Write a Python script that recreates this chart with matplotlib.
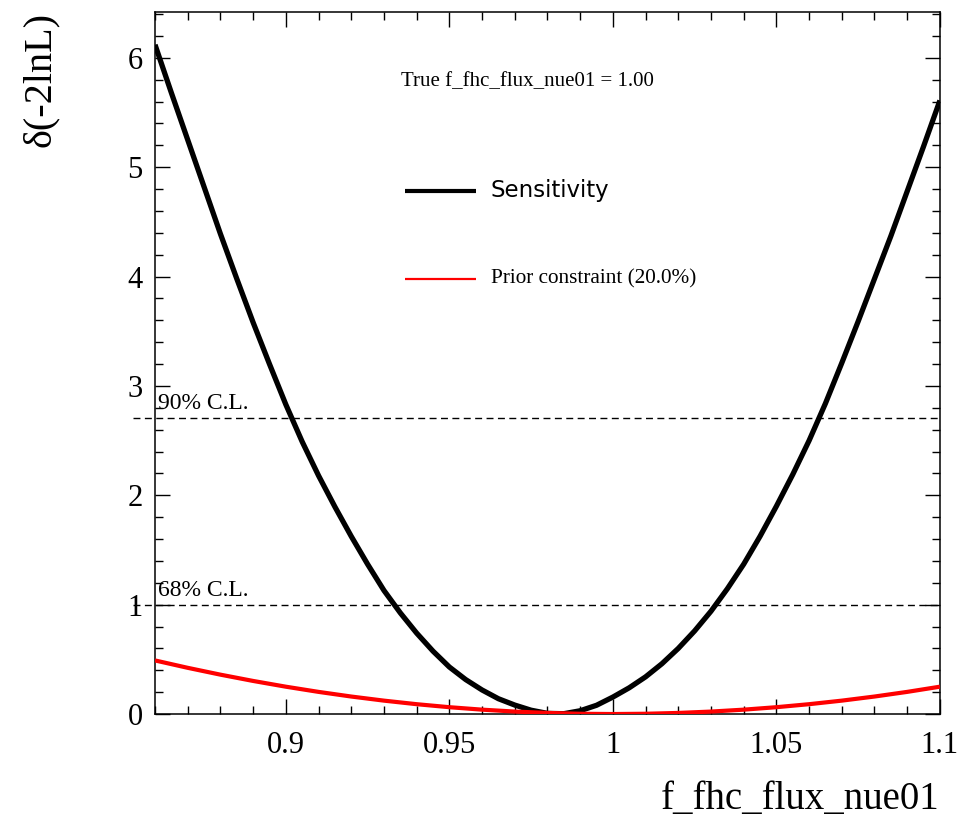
"""
Profile likelihood scan for f_fhc_flux_nue01.

Draws the delta(-2lnL) sensitivity curve next to the 20% Gaussian prior
constraint, with the 68% and 90% C.L. reference levels, in ROOT-like style.

Output:
    out.png
"""

import matplotlib
matplotlib.use("Agg")
import matplotlib.pyplot as plt
import matplotlib.transforms as mtransforms
from matplotlib.ticker import FormatStrFormatter, MultipleLocator

PARAM_NAME = "f_fhc_flux_nue01"
TRUE_VALUE = 1.00
PRIOR_WIDTH = 0.20

# Scan points (parameter value) and delta(-2lnL) for the sensitivity curve
scan_x = [0.860, 0.865, 0.870, 0.875, 0.880, 0.885, 0.890, 0.895, 0.900, 0.905,
          0.910, 0.915, 0.920, 0.925, 0.930, 0.935, 0.940, 0.945, 0.950, 0.955,
          0.960, 0.965, 0.970, 0.975, 0.980, 0.985, 0.990, 0.995, 1.000, 1.005,
          1.010, 1.015, 1.020, 1.025, 1.030, 1.035, 1.040, 1.045, 1.050, 1.055,
          1.060, 1.065, 1.070, 1.075, 1.080, 1.085, 1.090, 1.095, 1.100]
sensitivity = [6.12, 5.68, 5.25, 4.82, 4.39, 3.98, 3.58, 3.20, 2.83, 2.49,
               2.18, 1.895, 1.625, 1.37, 1.13, 0.925, 0.74, 0.575, 0.43, 0.315,
               0.22, 0.14, 0.082, 0.035, 0.006, 0.003, 0.03, 0.08, 0.155, 0.24,
               0.34, 0.46, 0.60, 0.76, 0.94, 1.145, 1.37, 1.625, 1.90, 2.19,
               2.50, 2.84, 3.21, 3.59, 3.98, 4.37, 4.78, 5.19, 5.61]

# Prior penalty
prior_x = [0.86, 0.87, 0.88, 0.89, 0.90, 0.91, 0.92, 0.93, 0.94, 0.95,
           0.96, 0.97, 0.98, 0.99, 1.00, 1.01, 1.02, 1.03, 1.04, 1.05,
           1.06, 1.07, 1.08, 1.09, 1.10]
prior = [0.49, 0.4225, 0.36, 0.3025, 0.25, 0.2025, 0.16, 0.1225, 0.09, 0.0625,
         0.04, 0.0225, 0.01, 0.0025, 0.0, 0.0025, 0.01, 0.0225, 0.04, 0.0625,
         0.09, 0.1225, 0.16, 0.2025, 0.25]

cl_levels = [2.71, 1.00]
cl_labels = ["90% C.L.", "68% C.L."]

SERIF = "Liberation Serif"
SANS = "DejaVu Sans"


def style_axes(ax):
    ax.set_xlim(0.86, 1.10)
    ax.set_ylim(0.0, 6.42)
    ax.xaxis.set_major_locator(MultipleLocator(0.05))
    ax.xaxis.set_minor_locator(MultipleLocator(0.01))
    ax.yaxis.set_major_locator(MultipleLocator(1))
    ax.yaxis.set_minor_locator(MultipleLocator(0.2))
    ax.xaxis.set_major_formatter(FormatStrFormatter("%g"))
    ax.yaxis.set_major_formatter(FormatStrFormatter("%g"))
    ax.tick_params(which="both", direction="in", top=True, right=True,
                   width=1.0, color="black")
    ax.tick_params(which="major", length=11)
    ax.tick_params(which="minor", length=5.5)
    ax.tick_params(axis="x", which="major", pad=12, labelsize=22)
    ax.tick_params(axis="y", which="major", pad=9, labelsize=22)
    for lab in ax.get_xticklabels() + ax.get_yticklabels():
        lab.set_fontfamily(SERIF)
    for sp in ax.spines.values():
        sp.set_linewidth(1.1)


def main():
    fig = plt.figure(figsize=(9.75, 8.27), dpi=100)
    ax = fig.add_axes([0.159, 0.1366, 0.805, 0.849])
    style_axes(ax)

    ax.plot(scan_x, sensitivity, color="black", lw=3.8,
            solid_joinstyle="round", solid_capstyle="butt", zorder=3)
    ax.plot(prior_x, prior, color="#ff0000", lw=3.0,
            solid_joinstyle="round", solid_capstyle="butt", zorder=4)

    # C.L. reference lines reach a little past the left frame edge
    trans = mtransforms.blended_transform_factory(ax.transAxes, ax.transData)
    for level, label in zip(cl_levels, cl_labels):
        ax.plot([-0.028, 1.0], [level, level], transform=trans, color="black",
                lw=1.0, ls=(0, (5, 3.2)), clip_on=False, zorder=2)
        ax.text(0.004, level + 0.03, label, transform=trans, fontsize=17,
                family=SERIF, ha="left", va="bottom")

    # Legend block drawn in axes coordinates
    ax.text(0.313, 0.901, f"True {PARAM_NAME} = {TRUE_VALUE:.2f}",
            transform=ax.transAxes, fontsize=15, family=SERIF,
            ha="left", va="center")
    ax.plot([0.318, 0.409], [0.745, 0.745], transform=ax.transAxes,
            color="black", lw=3.0, solid_capstyle="butt")
    ax.text(0.428, 0.745, "Sensitivity", transform=ax.transAxes,
            fontsize=16.5, family=SANS, ha="left", va="center")
    ax.plot([0.318, 0.409], [0.62, 0.62], transform=ax.transAxes,
            color="#ff0000", lw=1.6, solid_capstyle="butt")
    ax.text(0.428, 0.62, f"Prior constraint ({PRIOR_WIDTH * 100:.1f}%)",
            transform=ax.transAxes, fontsize=15.3, family=SERIF,
            ha="left", va="center")

    fig.text(0.964, 0.011, PARAM_NAME, fontsize=28, family=SERIF,
             ha="right", va="bottom")
    fig.text(0.041, 0.986, "δ(-2lnL)", fontsize=29, family=SERIF,
             rotation=90, ha="center", va="top")

    fig.savefig("out.png", dpi=100)
    plt.close(fig)


if __name__ == "__main__":
    main()
